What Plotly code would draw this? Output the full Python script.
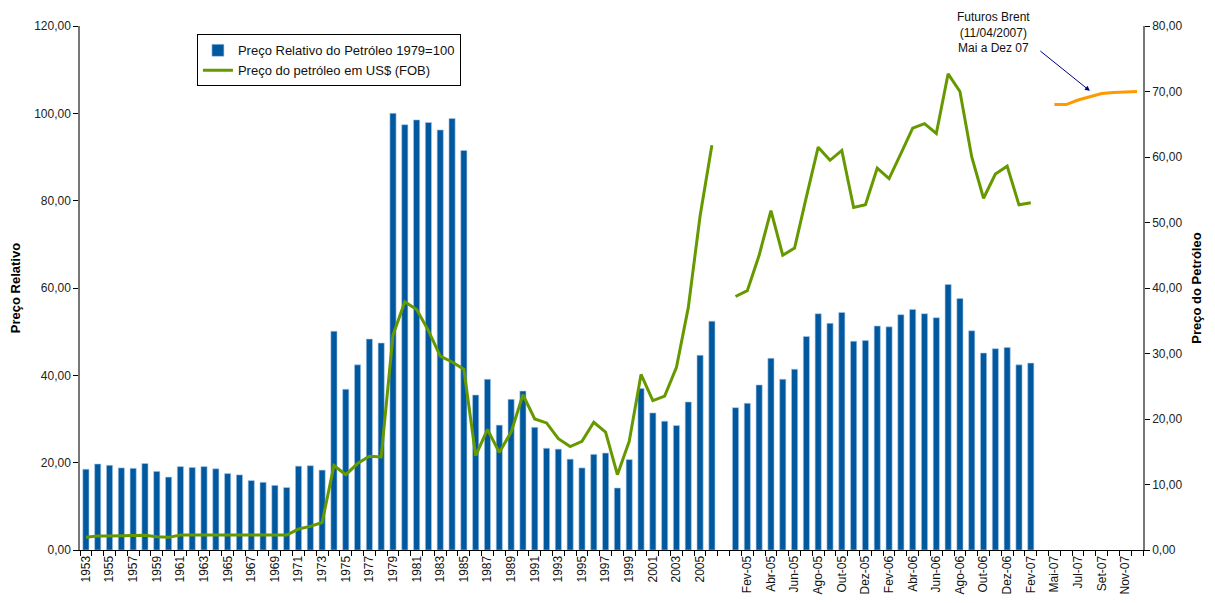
import plotly.graph_objects as go

# ---- data ----
years = [str(y) for y in range(1953, 2007)]
annual_rel = [18.5, 19.7, 19.4, 18.8, 18.7, 19.8, 18.0, 16.7, 19.1, 18.9,
              19.1, 18.6, 17.5, 17.2, 15.9, 15.5, 14.8, 14.3, 19.2, 19.3,
              18.3, 50.1, 36.8, 42.4, 48.3, 47.4, 100.0, 97.4, 98.5, 97.9,
              96.2, 98.8, 91.5, 35.5, 39.1, 28.6, 34.5, 36.4, 28.1, 23.3,
              23.1, 20.8, 18.8, 21.9, 22.2, 14.2, 20.7, 37.0, 31.4, 29.5,
              28.5, 33.9, 44.6, 52.4]
annual_usd = [1.93, 2.13, 2.13, 2.13, 2.15, 2.24, 2.03, 1.93, 2.29, 2.29,
              2.29, 2.29, 2.29, 2.29, 2.29, 2.29, 2.29, 2.29, 3.2, 3.6,
              4.2, 12.9, 11.5, 13.2, 14.3, 14.2, 32.8, 37.9, 36.7, 33.5,
              29.6, 28.7, 27.6, 14.4, 18.4, 14.9, 18.0, 23.7, 20.0, 19.4,
              17.0, 15.8, 16.6, 19.5, 18.0, 11.5, 16.6, 26.8, 22.8, 23.5,
              27.9, 37.0, 51.0, 61.8]

months = ["Jan-05", "Fev-05", "Mar-05", "Abr-05", "Mai-05", "Jun-05", "Jul-05",
          "Ago-05", "Set-05", "Out-05", "Nov-05", "Dez-05",
          "Jan-06", "Fev-06", "Mar-06", "Abr-06", "Mai-06", "Jun-06", "Jul-06",
          "Ago-06", "Set-06", "Out-06", "Nov-06", "Dez-06",
          "Jan-07", "Fev-07"]
monthly_rel = [32.6, 33.6, 37.8, 43.9, 39.1, 41.4, 48.9, 54.1, 51.9, 54.4,
               47.8, 48.0, 51.3, 51.1, 53.9, 55.1, 54.1, 53.2, 60.8, 57.6,
               50.2, 45.1, 46.1, 46.4, 42.4, 42.8]
monthly_usd = [38.7, 39.6, 45.0, 51.8, 45.0, 46.1, 53.9, 61.5, 59.5, 61.0,
               52.3, 52.7, 58.3, 56.7, 60.5, 64.4, 65.1, 63.6, 72.7, 70.0,
               60.0, 53.7, 57.4, 58.6, 52.7, 53.0]

fut_months = ["Mai-07", "Jun-07", "Jul-07", "Ago-07", "Set-07", "Out-07", "Nov-07", "Dez-07"]
fut_usd = [68.0, 68.0, 68.7, 69.2, 69.7, 69.85, 69.9, 70.0]

gaps = ["gap1", "gap2"]
categories = years + [gaps[0]] + months + [gaps[1]] + fut_months

BLUE = "#00589F"
GREEN = "#669900"
ORANGE = "#FF9900"
FONT = "Arial, Liberation Sans, sans-serif"

fig = go.Figure()
fig.add_trace(go.Bar(x=years + months, y=annual_rel + monthly_rel,
                     name="Preço Relativo do Petróleo 1979=100",
                     marker=dict(color=BLUE, line=dict(color="#A9C8E8", width=0.6)),
                     yaxis="y"))
fig.add_trace(go.Scatter(x=years, y=annual_usd, mode="lines",
                         name="Preço do petróleo em US$ (FOB)",
                         line=dict(color=GREEN, width=3), yaxis="y2"))
fig.add_trace(go.Scatter(x=months, y=monthly_usd, mode="lines", showlegend=False,
                         line=dict(color=GREEN, width=3), yaxis="y2"))
fig.add_trace(go.Scatter(x=fut_months, y=fut_usd, mode="lines", showlegend=False,
                         line=dict(color=ORANGE, width=3), yaxis="y2"))

ticktext = [("" if (c in gaps or i % 2) else c) for i, c in enumerate(categories)]

fig.update_layout(
    width=1207, height=595,
    margin=dict(l=72, r=72, t=18, b=53, autoexpand=False),
    paper_bgcolor="white", plot_bgcolor="white",
    separators=",.",
    font=dict(family=FONT, size=12, color="#222222"),
    bargap=0.48,
    showlegend=True,
    legend=dict(x=0.110, y=0.984, xanchor="left", yanchor="top",
                bordercolor="black", borderwidth=1, bgcolor="white",
                font=dict(size=13, color="#111111"), tracegroupgap=0,
                itemwidth=30),
    xaxis=dict(type="category", categoryorder="array", categoryarray=categories,
               tickmode="array", tickvals=categories, ticktext=ticktext,
               tickangle=-90, tickson="boundaries", ticks="outside", ticklen=5,
               tickcolor="black", showline=True, linecolor="black", linewidth=1,
               showgrid=False, tickfont=dict(size=12, color="#111111"),
               range=[-0.5, len(categories) - 0.5], automargin=False),
    yaxis=dict(range=[0, 120], dtick=20, tickformat=".2f", showgrid=False,
               showline=True, linecolor="#777777", linewidth=1.5,
               ticks="outside", ticklen=5, tickcolor="black", zeroline=False,
               automargin=False,
               title=dict(text="<b>Preço Relativo</b>", font=dict(size=13, color="black"),
                          standoff=12)),
    yaxis2=dict(range=[0, 80], dtick=10, tickformat=".2f", overlaying="y", side="right",
                showgrid=False, showline=True, linecolor="#777777", linewidth=1.5,
                ticks="outside", ticklen=5, tickcolor="black", zeroline=False,
                automargin=False,
                title=dict(text="<b>Preço do Petróleo</b>", font=dict(size=13, color="black"),
                           standoff=10)),
)

fig.add_annotation(xref="paper", yref="paper", x=0.859, y=0.987,
                   text="Futuros Brent<br>(11/04/2007)<br>Mai a Dez 07",
                   showarrow=False, xanchor="center", yanchor="middle",
                   font=dict(size=12, color="#111111"))
fig.add_annotation(x="Ago-07", y=70.1, xref="x", yref="y2", text="",
                   showarrow=True, arrowhead=2, arrowsize=1, arrowwidth=1,
                   arrowcolor="#000080", ax=-51, ay=-41)

fig.write_html("out.html")
